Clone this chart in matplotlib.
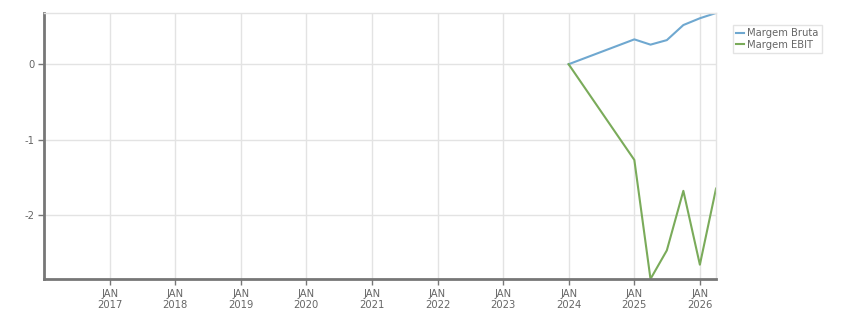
import datetime as dt
import matplotlib
matplotlib.use("Agg")
import matplotlib.pyplot as plt

# quarterly points
dates = ["2024-01-01", "2025-01-01", "2025-04-01", "2025-07-01",
         "2025-10-01", "2026-01-01", "2026-04-01"]
margem_bruta = [0.0, 0.33, 0.26, 0.32, 0.52, 0.61, 0.68]
margem_ebit = [0.0, -1.27, -2.85, -2.47, -1.68, -2.66, -1.65]
tick_years = list(range(2017, 2027))

x = [dt.datetime.strptime(d, "%Y-%m-%d") for d in dates]

fig = plt.figure(figsize=(8.51, 3.13), dpi=100)
ax = fig.add_axes([0.0517, 0.1086, 0.7897, 0.8499])

ax.plot(x, margem_bruta, color="#6fa8d0", lw=1.5, label="Margem Bruta")
ax.plot(x, margem_ebit, color="#7aab5a", lw=1.5, label="Margem EBIT")

ax.set_xlim(dt.datetime(2016, 1, 1), dt.datetime(2026, 4, 1))
ax.set_ylim(min(margem_ebit), max(margem_bruta))

ax.set_xticks([dt.datetime(y, 1, 1) for y in tick_years])
ax.set_xticklabels([f"JAN\n{y}" for y in tick_years])
ax.set_yticks([0, -1, -2])
ax.set_yticklabels(["0", "-1", "-2"])

ax.grid(True, color="#e3e3e3", lw=1)
ax.set_axisbelow(True)
for s in ["top", "right"]:
    ax.spines[s].set_color("#e3e3e3")
    ax.spines[s].set_linewidth(1)
for s in ["left", "bottom"]:
    ax.spines[s].set_color("#777777")
    ax.spines[s].set_linewidth(2)
ax.tick_params(axis="both", colors="#777777", labelcolor="#666666",
               labelsize=7.2, length=4, width=1, pad=3)

leg = ax.legend(loc="upper left", bbox_to_anchor=(1.025, 0.955),
                frameon=True, fancybox=False, fontsize=7.2,
                handlelength=0.8, handletextpad=0.3, borderpad=0.35,
                labelspacing=0.15, borderaxespad=0)
leg.get_frame().set_edgecolor("#dddddd")
leg.get_frame().set_linewidth(1)
for t in leg.get_texts():
    t.set_color("#666666")

fig.savefig("out.png", dpi=100)
